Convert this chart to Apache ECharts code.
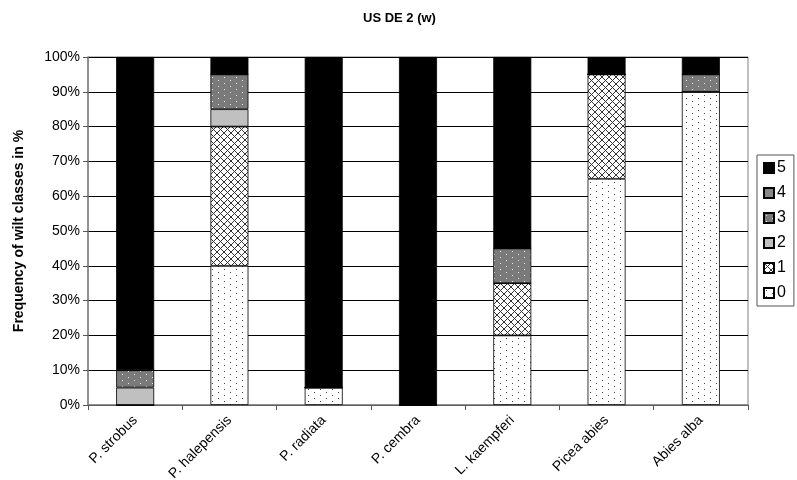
<!DOCTYPE html>
<html>
<head>
<meta charset="utf-8">
<script src="https://cdn.jsdelivr.net/npm/echarts@6/dist/echarts.min.js"></script>
<style>html,body{margin:0;padding:0;background:#fff}#c{width:797px;height:480px}</style>
</head>
<body>
<div id="c"></div>
<script>
const categories = ['P. strobus','P. halepensis','P. radiata','P. cembra','L. kaempferi','Picea abies','Abies alba'];
const class0 = [0, 40, 5, 0, 20, 65, 90];
const class1 = [0, 40, 0, 0, 15, 30, 0];
const class2 = [5, 5, 0, 0, 0, 0, 0];
const class3 = [5, 10, 0, 0, 10, 0, 5];
const class4 = [0, 0, 0, 0, 0, 0, 0];
const class5 = [90, 5, 95, 100, 55, 5, 5];
const yTicks = [0,10,20,30,40,50,60,70,80,90,100];

const FONT = 'Liberation Sans, Arial, sans-serif';

function makePattern(bg, draw, w, h) {
  const c = document.createElement('canvas');
  c.width = w; c.height = h;
  const g = c.getContext('2d');
  g.fillStyle = bg; g.fillRect(0,0,w,h);
  draw(g);
  return {image: c, repeat: 'repeat'};
}
const dotsWhite = makePattern('#ffffff', g => {
  g.fillStyle = '#444'; g.fillRect(2,2,1,1); g.fillRect(8,5,1,1);
}, 12, 6);
const crossHatch = makePattern('#ffffff', g => {
  g.strokeStyle = '#333'; g.lineWidth = 1;
  g.beginPath(); g.moveTo(0,0); g.lineTo(7,7); g.moveTo(7,0); g.lineTo(0,7); g.stroke();
}, 7, 7);
const grayDots = makePattern('#7a7a7a', g => {
  g.fillStyle = '#e8e8e8'; g.fillRect(2,2,1,1); g.fillRect(8,5,1,1);
}, 12, 6);

const classData = [class0, class1, class2, class3, class4, class5];
const classNames = ['0','1','2','3','4','5'];
const classColors = [dotsWhite, crossHatch, '#c0c0c0', grayDots, '#888888', '#000000'];

const series = classData.map((d, i) => ({
  name: classNames[i],
  type: 'bar',
  stack: 'all',
  barWidth: 38,
  data: d,
  itemStyle: {color: classColors[i], borderColor: '#000', borderWidth: 0.8},
  emphasis: {disabled: true}
}));

const chart = echarts.init(document.getElementById('c'), null, {renderer: 'canvas'});
chart.setOption({
  animation: false,
  backgroundColor: '#fff',
  textStyle: {fontFamily: FONT},
  title: {
    text: 'US DE 2 (w)', left: 358, top: 7,
    textStyle: {fontSize: 13, fontWeight: 'bold', color: '#000', fontFamily: FONT}
  },
  legend: {
    orient: 'vertical', left: 757, top: 155,
    data: ['5','4','3','2','1','0'],
    itemWidth: 10, itemHeight: 10, itemGap: 9,
    icon: 'rect',
    borderColor: '#555', borderWidth: 1, padding: [5, 8, 5, 6],
    textStyle: {fontSize: 16, color: '#000', fontFamily: FONT, padding: [0,0,0,-2]},
    selectedMode: false
  },
  grid: {left: 88, right: 49, top: 57, bottom: 75, outerBoundsMode: 'none', containLabel: false,
         show: true, borderColor: '#808080', borderWidth: 1},
  xAxis: {
    type: 'category', data: categories,
    axisLine: {lineStyle: {color: '#808080', width: 1.5}},
    axisTick: {show: true, length: 5, lineStyle: {color: '#555'}},
    axisLabel: {rotate: 45, fontSize: 14, color: '#000', margin: 13, fontFamily: FONT}
  },
  yAxis: {
    type: 'value', min: 0, max: 100, interval: 10,
    name: 'Frequency of wilt classes in %', nameLocation: 'middle', nameGap: 62,
    nameTextStyle: {fontSize: 14, fontWeight: 'bold', color: '#000', fontFamily: FONT},
    axisLine: {show: true, lineStyle: {color: '#808080', width: 1.5}},
    axisTick: {show: true, length: 5, lineStyle: {color: '#555'}},
    axisLabel: {formatter: v => yTicks.includes(v) ? v + '%' : '', fontSize: 14, color: '#000', margin: 8, fontFamily: FONT},
    splitLine: {show: true, lineStyle: {color: '#000', width: 1}}
  },
  series: series
});
</script>
</body>
</html>
